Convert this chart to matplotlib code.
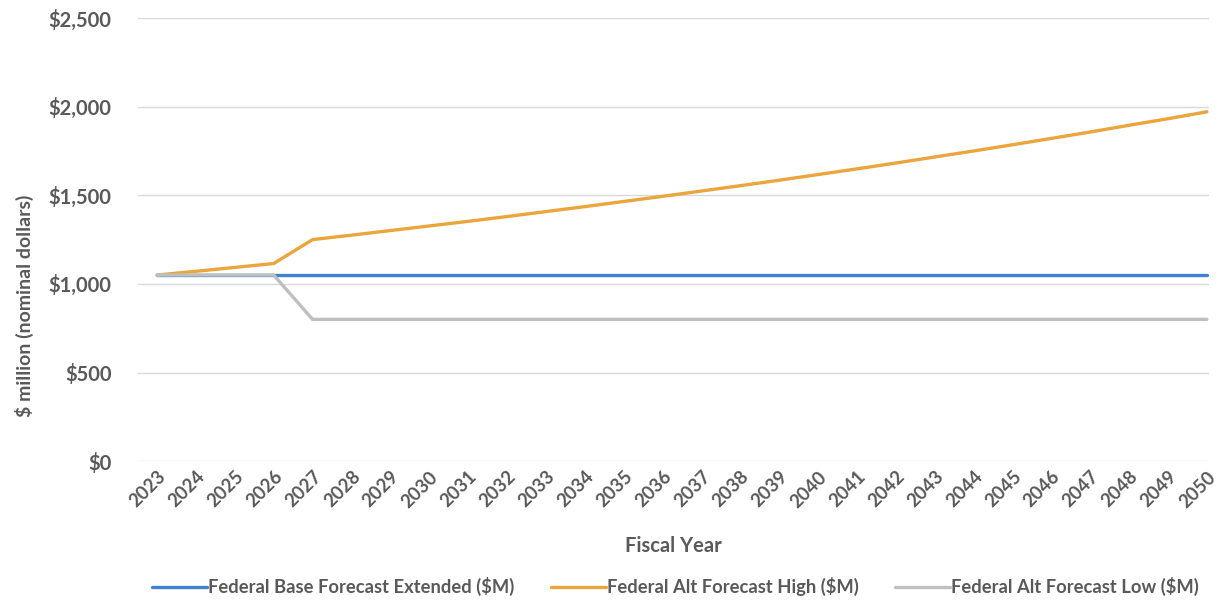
import matplotlib
matplotlib.use('Agg')

import matplotlib.pyplot as plt
from matplotlib.ticker import FuncFormatter

years = list(range(2023, 2051))

base_extended = [1050] * 28

alt_high = [1050, 1071, 1093, 1115,
            1250, 1275, 1301, 1327, 1353, 1380, 1408, 1436, 1465, 1494,
            1524, 1554, 1585, 1617, 1649, 1682, 1716, 1750, 1785, 1821,
            1857, 1895, 1932, 1971]

alt_low = [1050, 1050, 1050, 1050] + [800] * 24

series_names = ['Federal Base Forecast Extended ($M)',
                'Federal Alt Forecast High ($M)',
                'Federal Alt Forecast Low ($M)']
colors = ['#3F82D2', '#EAA53D', '#BFBFBF']
text_color = '#595959'

plt.rcParams['font.family'] = ['Lato', 'DejaVu Sans']
plt.rcParams['font.weight'] = 'bold'

fig = plt.figure(figsize=(12.21, 6.02), dpi=100)
ax = fig.add_axes([0.113, 0.234, 0.877, 0.736])

for vals, name, c in zip([base_extended, alt_high, alt_low], series_names, colors):
    ax.plot(years, vals, color=c, lw=2.4, label=name, solid_capstyle='round')

ax.set_ylim(0, 2500)
ax.set_yticks([0, 500, 1000, 1500, 2000, 2500])
ax.yaxis.set_major_formatter(FuncFormatter(lambda v, p: f"${v:,.0f}"))
ax.set_xlim(2023 - 0.49, 2050 + 0.05)
ax.set_xticks(years)
ax.set_xticklabels([str(y) for y in years], rotation=45, ha='right',
                   rotation_mode='anchor', fontsize=13.3, color=text_color,
                   fontweight='bold')

ax.grid(axis='y', color='#D9D9D9', lw=1)
ax.set_axisbelow(True)
for s in ax.spines.values():
    s.set_visible(False)
ax.tick_params(axis='both', length=0, colors=text_color)
ax.tick_params(axis='y', labelsize=14.5, pad=19)
ax.tick_params(axis='x', pad=5)
for lbl in ax.get_yticklabels():
    lbl.set_fontweight('bold')

ax.set_ylabel('$ million (nominal dollars)', fontsize=14, color=text_color,
              fontweight='bold', labelpad=12)
ax.yaxis.set_label_coords(-0.097, 0.35)
ax.set_xlabel('Fiscal Year', fontsize=14.5, color=text_color, fontweight='bold',
              labelpad=18)

leg = fig.legend(loc='lower center', bbox_to_anchor=(0.553, -0.018), ncol=3,
                 frameon=False, fontsize=13.2, handlelength=3.0,
                 handletextpad=0.05, columnspacing=2.0)
for t in leg.get_texts():
    t.set_color(text_color)
    t.set_fontweight('bold')

plt.savefig('out.png', dpi=100)
